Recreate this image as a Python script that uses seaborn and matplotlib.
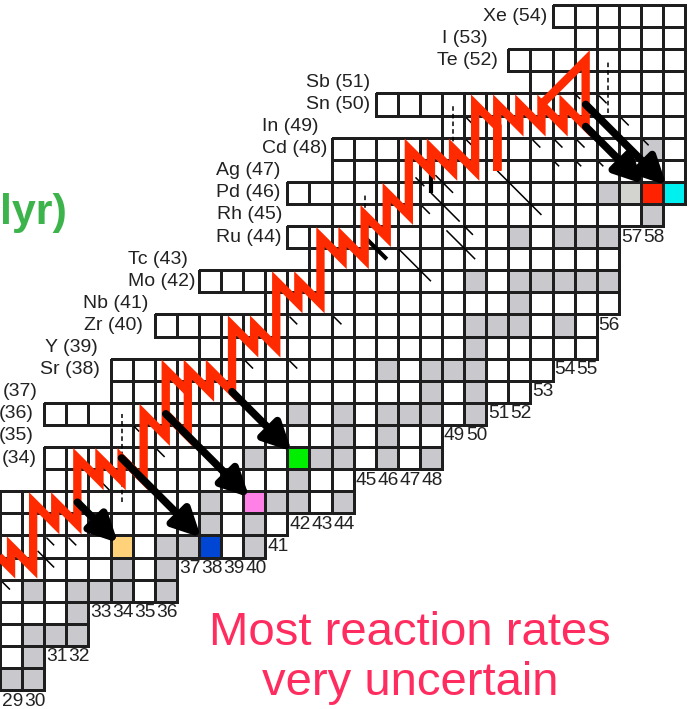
import numpy as np
import pandas as pd
import seaborn as sns
import matplotlib
matplotlib.use("Agg")
import matplotlib.pyplot as plt
from matplotlib.colors import ListedColormap, to_rgba

# ---------------- data ----------------
N_VALUES = list(range(29, 60))          # neutron numbers (columns)
Z_VALUES = list(range(54, 23, -1))      # proton numbers (rows, top to bottom)

ELEMENTS = {54: "Xe", 53: "I", 52: "Te", 51: "Sb", 50: "Sn", 49: "In", 48: "Cd",
            47: "Ag", 46: "Pd", 45: "Rh", 44: "Ru", 43: "Tc", 42: "Mo", 41: "Nb",
            40: "Zr", 39: "Y", 38: "Sr"}

# lightest isotope drawn in each proton row
ROW_START = {54: 54, 53: 55, 52: 52, 51: 53, 50: 46, 49: 49, 48: 44, 47: 44,
             46: 42, 45: 44, 44: 42, 43: 43, 42: 38, 41: 41, 40: 36, 39: 38,
             38: 34, 37: 34, 36: 31, 35: 34, 34: 31, 33: 31, 32: 29, 31: 29,
             30: 29, 29: 29, 28: 29, 27: 29, 26: 29, 25: 29, 24: 29}

# lowest proton number drawn in each neutron column
COL_BOTTOM = {29: 24, 30: 24, 31: 26, 32: 26, 33: 28, 34: 28, 35: 28, 36: 28,
              37: 30, 38: 30, 39: 30, 40: 30, 41: 31, 42: 32, 43: 32, 44: 32,
              45: 34, 46: 34, 47: 34, 48: 34, 49: 36, 50: 36, 51: 37, 52: 37,
              53: 38, 54: 39, 55: 39, 56: 41, 57: 45, 58: 45, 59: 46}

# stable isotopes (neutron numbers per proton row)
STABLE = {24: [29, 30], 25: [30], 26: [30, 31, 32], 27: [32],
          28: [30, 32, 33, 34, 36], 29: [34, 36], 30: [34, 36, 37, 38, 40],
          31: [38, 40], 32: [38, 40, 41, 42, 44], 33: [42],
          34: [40, 42, 43, 44, 46, 48], 35: [44, 46],
          36: [42, 44, 46, 47, 48, 50], 37: [48, 50], 38: [46, 48, 49, 50],
          39: [50], 40: [50, 51, 52, 54, 56], 41: [52],
          42: [50, 52, 53, 54, 55, 56], 44: [52, 54, 55, 56], 45: [58],
          46: [56, 58, 59], 48: [58]}
LONG_LIVED = [(57, 46)]

# highlighted end products (N, Z, colour)
HIGHLIGHT = [(34, 30, "#ffd27a"), (38, 30, "#0046d5"), (40, 32, "#ff80e6"),
             (42, 34, "#00ee00"), (58, 46, "#ff2200"), (59, 46, "#00f0f0")]

# main reaction path (N, Z), ending in the Sn-Sb-Te cycle
PATH = [(28, 30), (29, 29), (29, 30), (30, 29), (30, 32), (31, 31), (31, 32),
        (32, 31), (32, 34), (33, 33), (33, 34), (34, 33), (34, 34), (35, 33),
        (35, 36), (36, 35), (36, 38), (37, 37), (37, 38), (38, 37), (38, 38),
        (39, 37), (39, 40), (40, 39), (40, 40), (41, 39), (41, 42), (42, 41),
        (42, 42), (43, 41), (43, 44), (44, 43), (44, 44), (45, 43), (45, 45),
        (46, 44), (46, 46), (47, 45), (47, 48), (48, 47), (48, 48), (49, 47),
        (49, 48), (50, 47), (50, 50), (51, 49), (51, 47), (51, 50), (52, 49),
        (52, 50), (53, 49), (53, 50), (54, 49), (54, 50), (55, 49), (55, 52),
        (53, 50)]
# side branch of the path
BRANCH = [(36, 36), (37, 35), (37, 37)]

# decay arrows: start nucleus -> end nucleus, tip inset within the end cell
ARROWS = [((32, 32), (34, 30), 0.34), ((34, 34), (38, 30), 0.1),
          ((36, 36), (40, 32), 0.28), ((39, 37), (42, 34), 0.2),
          ((55, 49), (58, 46), 0.1), ((55, 50), (59, 46), 0.16)]

# weak side branches drawn dashed: (N, Z from, Z to)
DASHED = [(34, 32, 36), (45, 43.6, 46), (49, 48, 50), (56, 49.6, 52)]

# beta-decay links along isobars: (N, Z, start step, end step)
DECAYS = [(28, 29, 0.6, 0.95), (30, 30, 0.2, 0.95), (30, 31, 0.6, 0.95),
          (31, 31, 0.6, 0.95), (33, 33, 0.1, 0.45), (34, 36, 0.55, 0.8),
          (35, 35, 0.6, 0.95), (39, 39, 0.6, 0.95), (41, 39, 0.6, 0.95),
          (41, 41, 0.6, 0.95), (43, 41, 0.6, 0.95), (46, 44, 0.55, 2.0),
          (47, 46, 0.6, 0.95), (47, 47, 0.3, 0.7), (48, 47, 0.2, 1.0),
          (48, 46, 0.0, 1.3), (49, 44, -0.3, 1.0), (49, 45, 0.5, 0.9),
          (49, 49, 0.6, 0.95), (49, 50, 0.6, 0.95), (51, 47, 0.0, 2.0),
          (52, 49, 0.6, 0.95), (53, 49, 0.6, 0.95), (54, 49, 0.6, 0.95),
          (53, 48, 0.6, 0.8), (54, 48, 0.6, 0.8), (55, 48, 0.6, 0.8),
          (54, 51, 0.45, 0.75), (55, 51, 0.6, 0.95), (56, 50, 0.6, 0.95),
          (57, 49, 0.6, 0.85)]
# strong secondary flows drawn heavy
HEAVY = [[(45, 44), (46, 43)], [(48, 46), (48, 47)]]

# ---------------- geometry helpers ----------------
CELL = 22.1
W, H = 695, 709


def cx(n):
    return n - N_VALUES[0] + 0.5


def cy(z):
    return Z_VALUES[0] - z + 0.5


# ---------------- cell table ----------------
codes = pd.DataFrame(np.nan, index=Z_VALUES, columns=N_VALUES)
for z in Z_VALUES:
    for n in N_VALUES:
        if n >= ROW_START[z] and z >= COL_BOTTOM[n]:
            codes.loc[z, n] = 0
for z, ns in STABLE.items():
    for n in ns:
        if not np.isnan(codes.loc[z, n]):
            codes.loc[z, n] = 1
for n, z in LONG_LIVED:
    codes.loc[z, n] = 2
palette = ["#ffffff", "#c8c8cd", "#d3d3cf"]
for k, (n, z, col) in enumerate(HIGHLIGHT):
    codes.loc[z, n] = 3 + k
    palette.append(col)

sns.set_theme(style="white")
plt.rcParams["font.family"] = ["Liberation Sans", "DejaVu Sans"]

fig = plt.figure(figsize=(W / 100, H / 100), dpi=100)
ax = fig.add_axes([0, 0, 1, 1])
missing = codes.isna()
sns.heatmap(codes, mask=missing, cmap=ListedColormap(palette),
            vmin=-0.5, vmax=len(palette) - 0.5, cbar=False,
            linewidths=1.9, linecolor="#1e1e1e", ax=ax)
# outline only the cells that exist
mesh = ax.collections[0]
edge = np.array([to_rgba("#1e1e1e")] * missing.size)
edge[missing.values.ravel()] = (0, 0, 0, 0)
mesh.set_edgecolor(edge)

ax.set_xlim(0, W / CELL)
ax.set_ylim((H - 5) / CELL, -5 / CELL)
ax.axis("off")

# weak branches and decay links
for n, z0, z1 in DASHED:
    ax.plot([cx(n), cx(n)], [cy(z0), cy(z1)], color="black", lw=1.1,
            dashes=(3, 2), zorder=4)
for n, z, t0, t1 in DECAYS:
    ax.plot([cx(n) + t0, cx(n) + t1], [cy(z) + t0, cy(z) + t1],
            color="black", lw=1.1, solid_capstyle="butt", zorder=4)
for seg in HEAVY:
    ax.plot([cx(n) for n, z in seg], [cy(z) for n, z in seg],
            color="black", lw=3.0, solid_capstyle="butt", zorder=4)

# reaction path
for line in (BRANCH, PATH):
    ax.plot([cx(n) for n, z in line], [cy(z) for n, z in line],
            color="#ff2a00", lw=6.0, solid_joinstyle="miter",
            solid_capstyle="butt", zorder=5)

# decay arrows
for (n0, z0), (n1, z1), inset in ARROWS:
    tip = (n1 - N_VALUES[0] + inset, Z_VALUES[0] - z1 + inset)
    ax.annotate("", xy=tip, xytext=(cx(n0), cy(z0)),
                arrowprops=dict(arrowstyle="-|>,head_length=0.8,head_width=0.4",
                                lw=5.5, color="black", mutation_scale=21,
                                shrinkA=0, shrinkB=0), zorder=6)

# element labels
LABEL_RIGHT = {54: 547, 53: 488, 52: 498, 51: 370, 50: 370, 49: 318, 48: 327,
               47: 280, 46: 280, 45: 282, 44: 282, 43: 188, 42: 195, 41: 148,
               40: 143, 39: 98, 38: 100, 37: 38, 36: 34, 35: 34, 34: 37}
for z, xr in LABEL_RIGHT.items():
    text = f"{ELEMENTS[z]} ({z})" if z in ELEMENTS else f"({z})"
    ax.text(xr / CELL, cy(z), text, ha="right", va="center",
            fontsize=14, color="#222222")

# neutron numbers under each column
for n, zb in COL_BOTTOM.items():
    if n == 59:
        continue
    ax.text(n - N_VALUES[0] + 2 / CELL, cy(zb) + 0.5 + 15.5 / CELL, str(n),
            ha="left", va="baseline", fontsize=13.8, color="#222222")

ax.text(0, 208 / CELL, "lyr)", ha="left", va="center", fontsize=31,
        fontweight="bold", color="#3cb44b")
ax.text(410 / CELL, 653 / CELL, "Most reaction rates\nvery uncertain",
        ha="center", va="center", fontsize=34, color="#ff2d5f", linespacing=1.2)

fig.savefig("out.png", dpi=100)
